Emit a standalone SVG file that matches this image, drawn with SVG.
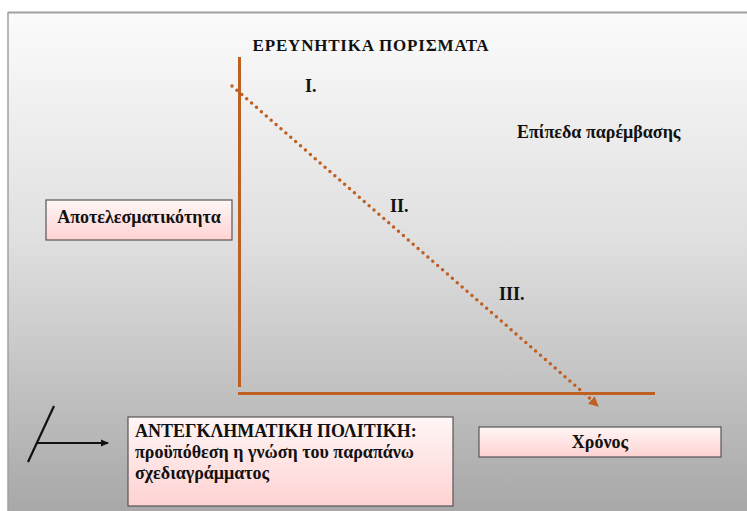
<svg xmlns="http://www.w3.org/2000/svg" width="747" height="511" viewBox="0 0 747 511">
  <defs>
    <linearGradient id="bg" x1="0" y1="0" x2="0" y2="1">
      <stop offset="0" stop-color="#fbfbfb"/>
      <stop offset="0.45" stop-color="#e0e0e0"/>
      <stop offset="1" stop-color="#a8a8a8"/>
    </linearGradient>
    <linearGradient id="pink" x1="0" y1="0" x2="0" y2="1">
      <stop offset="0" stop-color="#fff6f6"/>
      <stop offset="1" stop-color="#ffd2d2"/>
    </linearGradient>
    <marker id="brownHead" markerWidth="10" markerHeight="10" refX="9" refY="5" orient="auto" markerUnits="userSpaceOnUse">
      <path d="M0,0 L10,5 L0,10 z" fill="#bf5f22"/>
    </marker>
    <marker id="blackHead" markerWidth="8" markerHeight="8" refX="7" refY="4" orient="auto" markerUnits="userSpaceOnUse">
      <path d="M0,0.5 L8,4 L0,7.5 z" fill="#111"/>
    </marker>
    <style>
      .t { font-family: 'Liberation Serif', 'DejaVu Serif', serif; font-weight: bold; fill: #111; font-size: 18px; }
      .box { fill: url(#pink); stroke: #555; stroke-width: 1.2; }
      .axis { stroke: #bf5f22; stroke-width: 3; fill: none; }
    </style>
  </defs>

  <rect x="0" y="0" width="747" height="511" fill="#ffffff"/>
  <rect x="8" y="13" width="739" height="498" fill="url(#bg)"/>
  <line x1="8" y1="12.5" x2="747" y2="12.5" stroke="#a0a0a0" stroke-width="2"/>
  <line x1="8" y1="12" x2="8" y2="511" stroke="#a0a0a0" stroke-width="1.5"/>

  <g id="title">
    <text class="t" x="371" y="51" text-anchor="middle" style="font-size:17px" letter-spacing="0.8">ΕΡΕΥΝΗΤΙΚΑ ΠΟΡΙΣΜΑΤΑ</text>
  </g>

  <g id="connectors">
    <line class="axis" x1="239.5" y1="57" x2="239.5" y2="387"/>
    <line class="axis" x1="238" y1="393.5" x2="655" y2="393.5"/>
    <line x1="232" y1="86" x2="594" y2="402" stroke="#bf5f22" stroke-width="3.5" stroke-linecap="round" stroke-dasharray="0 6.5"/>
    <line x1="589" y1="398" x2="598" y2="406" stroke="#bf5f22" stroke-width="0.1" marker-end="url(#brownHead)"/>
    <line x1="28" y1="462" x2="54" y2="406" stroke="#111" stroke-width="2.2"/>
    <line x1="36" y1="443" x2="108" y2="443" stroke="#111" stroke-width="2" marker-end="url(#blackHead)"/>
  </g>

  <g id="label-I"><text class="t" x="305" y="92">I.</text></g>
  <g id="label-II"><text class="t" x="390" y="212">II.</text></g>
  <g id="label-III"><text class="t" x="499" y="300">III.</text></g>

  <g id="levels">
    <text class="t" x="517" y="138">Επίπεδα παρέμβασης</text>
  </g>

  <g id="effectiveness">
    <rect class="box" x="46" y="200" width="186" height="40"/>
    <text class="t" x="139" y="223" text-anchor="middle">Αποτελεσματικότητα</text>
  </g>

  <g id="policy">
    <rect class="box" x="128" y="417" width="325" height="89"/>
    <text class="t" x="135" y="437">ΑΝΤΕΓΚΛΗΜΑΤΙΚΗ ΠΟΛΙΤΙΚΗ:</text>
    <text class="t" x="135" y="458">προϋπόθεση η γνώση του παραπάνω</text>
    <text class="t" x="135" y="479">σχεδιαγράμματος</text>
  </g>

  <g id="time">
    <rect class="box" x="479" y="427" width="242" height="30"/>
    <text class="t" x="600" y="448" text-anchor="middle">Χρόνος</text>
  </g>
</svg>
